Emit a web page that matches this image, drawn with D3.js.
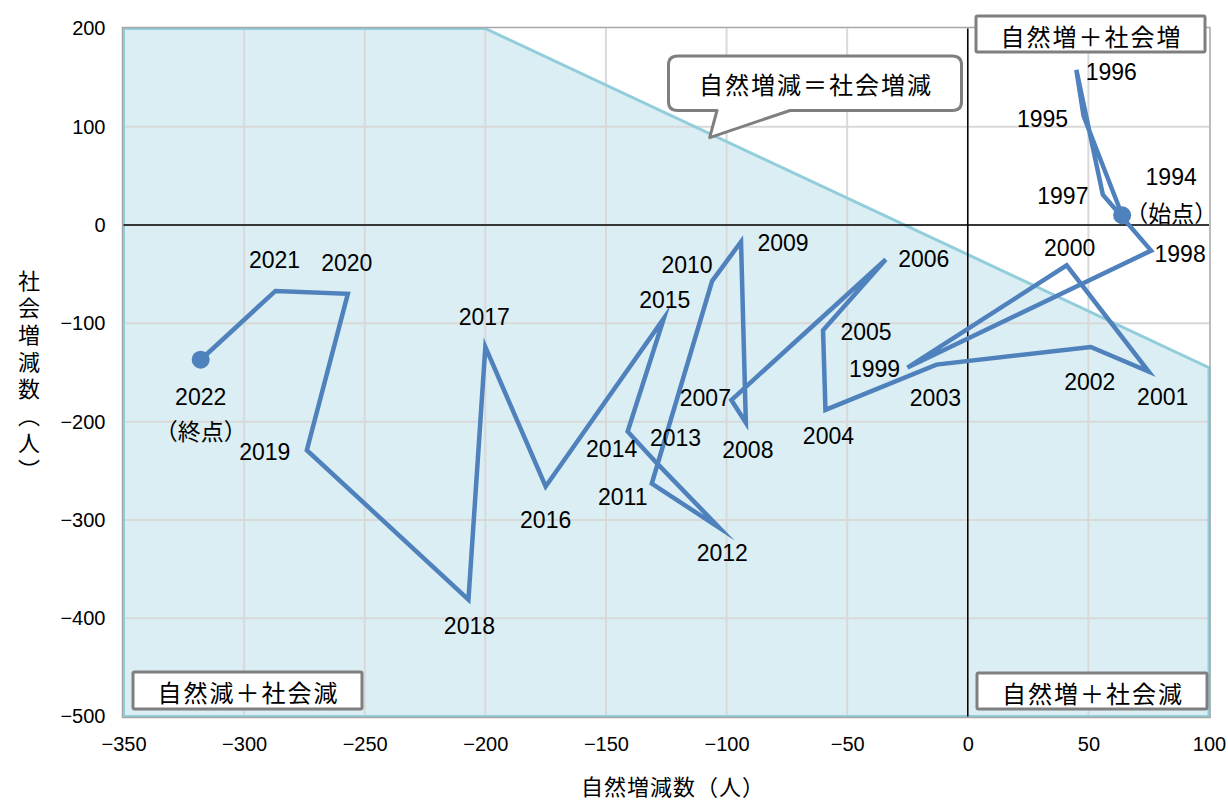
<!DOCTYPE html>
<html><head><meta charset="utf-8">
<script src="https://cdn.jsdelivr.net/npm/d3@7"></script>
<style>
html,body{margin:0;padding:0;background:#fff;}
svg{display:block;}
</style>
</head><body>
<svg id="chart" width="1228" height="801"></svg>
<script>
// ---- data ----
const years = [1994,1995,1996,1997,1998,1999,2000,2001,2002,2003,2004,2005,2006,2007,2008,2009,2010,2011,2012,2013,2014,2015,2016,2017,2018,2019,2020,2021,2022];
const naturalChange = [64,48,45,56,76,-25,41,75,51,-13,-59,-60,-34,-98,-92,-94,-106,-131,-103,-129,-141,-126,-175,-200,-207,-274,-257,-287,-318];
const socialChange = [10,111,158,31,-26,-145,-41,-149,-124,-142,-188,-107,-35,-178,-201,-17,-57,-263,-308,-242,-210,-95,-266,-124,-381,-229,-70,-67,-137];
const xTicks = [-350,-300,-250,-200,-150,-100,-50,0,50,100];
const yTicks = [-500,-400,-300,-200,-100,0,100,200];
const equalLine = [[-200,200],[100,-145]]; // 自然増減＝社会増減 boundary
const startNote = "（始点）";
const endNote = "（終点）";
const quadrantLabels = ["自然増＋社会増","自然減＋社会減","自然増＋社会減"];
const calloutText = "自然増減＝社会増減";
const xTitle = "自然増減数（人）";
const yTitle = "社会増減数（人）";

// label offsets (layout only)
const labelOffsets = [[49,-38],[-41,3],[35,2],[-40,1],[29,3],[-33,1],[3,-17],[14,25],[-1,35],[-1,33],[3,26],[43,2],[38,0],[-26,-2],[2,27],[42,1],[-25,-16],[-29,13],[3,25],[19,-25],[-16,18],[1,-18],[0,33],[-1,-30],[1,26],[-42,2],[-1,-31],[-1,-31],[0,37]];

// ---- layout ----
const svg = d3.select("#chart");
const L = 123.5, R = 1209, T = 28.5, B = 716.5;
const x = d3.scaleLinear().domain([-350,100]).range([L,R]);
const y = d3.scaleLinear().domain([-500,200]).range([B,T]);
const numFont = "'Liberation Sans', Arial, sans-serif";
const jpFont = "'Noto Sans CJK JP', 'Noto Sans', sans-serif";

// shaded region (below the equal line)
const region = [[-350,200],[equalLine[0][0],equalLine[0][1]],[equalLine[1][0],equalLine[1][1]],[100,-500],[-350,-500]];
svg.append("path")
  .attr("d", d3.line().x(d=>x(d[0])).y(d=>y(d[1]))(region) + "Z")
  .attr("fill","#daeef3").attr("stroke","none");

// grid
svg.append("g").selectAll("line").data(xTicks.slice(1,-1)).join("line")
  .attr("x1",d=>x(d)).attr("x2",d=>x(d)).attr("y1",T).attr("y2",B)
  .attr("stroke","#d9d9d9").attr("stroke-width",2);
svg.append("g").selectAll("line").data(yTicks.slice(1,-1)).join("line")
  .attr("x1",L).attr("x2",R).attr("y1",d=>y(d)).attr("y2",d=>y(d))
  .attr("stroke","#d9d9d9").attr("stroke-width",2);

// region outline
svg.append("path")
  .attr("d", d3.line().x(d=>x(d[0])).y(d=>y(d[1]))(region) + "Z")
  .attr("fill","none").attr("stroke","#92cddc").attr("stroke-width",3);

// plot border
svg.append("rect").attr("x",L-1).attr("y",T-1).attr("width",R-L+2).attr("height",B-T+2)
  .attr("fill","none").attr("stroke","#a6a6a6").attr("stroke-width",1.5);

// zero axes
svg.append("line").attr("x1",x(0)).attr("x2",x(0)).attr("y1",T).attr("y2",B)
  .attr("stroke","#000").attr("stroke-width",1.5);
svg.append("line").attr("x1",L).attr("x2",R).attr("y1",y(0)).attr("y2",y(0))
  .attr("stroke","#000").attr("stroke-width",1.5);

// axes labels via d3 axes
const fmt = d3.format("d");
const xAxis = svg.append("g").attr("transform",`translate(0,${B+20})`)
  .call(d3.axisBottom(x).tickValues(xTicks).tickSize(0).tickFormat(d=>fmt(d)));
xAxis.select(".domain").remove();
xAxis.selectAll("text").attr("font-family",numFont).attr("font-size",20).attr("fill","#000").attr("dy","0.71em").attr("y",0);

const yAxis = svg.append("g").attr("transform",`translate(${L-18},0)`)
  .call(d3.axisLeft(y).tickValues(yTicks).tickSize(0).tickFormat(d=>fmt(d)));
yAxis.select(".domain").remove();
yAxis.selectAll("text").attr("font-family",numFont).attr("font-size",20).attr("fill","#000").attr("x",0);

// axis titles
svg.append("text").attr("x",673).attr("y",795).attr("text-anchor","middle")
  .attr("font-family",jpFont).attr("font-size",22).attr("letter-spacing",1).attr("fill","#000").text(xTitle);
svg.append("text").attr("x",25).attr("y",270)
  .attr("writing-mode","vertical-rl").attr("font-family",jpFont).attr("font-size",22)
  .attr("letter-spacing",5).attr("fill","#000").attr("dominant-baseline","middle").text(yTitle);

// data line
const pts = years.map((yr,i)=>({yr, nx:naturalChange[i], sy:socialChange[i], off:labelOffsets[i]}));
svg.append("path")
  .attr("d", d3.line().x(d=>x(d.nx)).y(d=>y(d.sy))(pts))
  .attr("fill","none").attr("stroke","#4f81bd").attr("stroke-width",4.5)
  .attr("stroke-linejoin","miter").attr("stroke-miterlimit",10);

// start/end markers
svg.append("g").selectAll("circle").data([pts[0], pts[pts.length-1]]).join("circle")
  .attr("cx",d=>x(d.nx)).attr("cy",d=>y(d.sy)).attr("r",9).attr("fill","#4f81bd");

// year labels
svg.append("g").selectAll("text").data(pts).join("text")
  .attr("x",d=>x(d.nx)+d.off[0]).attr("y",d=>y(d.sy)+d.off[1])
  .attr("text-anchor","middle").attr("dominant-baseline","central")
  .attr("font-family",numFont).attr("font-size",23).attr("fill","#000")
  .text(d=>d.yr);
// start/end notes
const first = pts[0], last = pts[pts.length-1];
svg.append("text").attr("x",x(first.nx)+first.off[0]).attr("y",y(first.sy)+first.off[1]+35)
  .attr("text-anchor","middle").attr("dominant-baseline","central")
  .attr("font-family",jpFont).attr("font-size",23).attr("fill","#000").text(startNote);
svg.append("text").attr("x",x(last.nx)+last.off[0]).attr("y",y(last.sy)+last.off[1]+33)
  .attr("text-anchor","middle").attr("dominant-baseline","central")
  .attr("font-family",jpFont).attr("font-size",23).attr("fill","#000").text(endNote);

// quadrant boxes
const boxes = [
  {t:quadrantLabels[0], x0:976, y0:16, x1:1205, y1:52},
  {t:quadrantLabels[1], x0:133, y0:672, x1:362, y1:709},
  {t:quadrantLabels[2], x0:977, y0:673, x1:1207, y1:709}
];
const bg = svg.append("g");
boxes.forEach(b=>{
  bg.append("rect").attr("x",b.x0).attr("y",b.y0).attr("width",b.x1-b.x0).attr("height",b.y1-b.y0)
    .attr("fill","#fff").attr("stroke","#7f7f7f").attr("stroke-width",3).attr("rx",1.5);
  bg.append("text").attr("x",(b.x0+b.x1)/2+1).attr("y",(b.y0+b.y1)/2+1)
    .attr("text-anchor","middle").attr("dominant-baseline","central")
    .attr("font-family",jpFont).attr("font-size",24).attr("letter-spacing",2).attr("fill","#000").text(b.t);
});

// callout
const tipX = x(-107), tipY = y(89);
const cx0 = 668.5, cy0 = 56, cx1 = 961.5, cy1 = 110.5, r = 9;
const callPath = `M${cx0+r},${cy0} H${cx1-r} Q${cx1},${cy0} ${cx1},${cy0+r} V${cy1-r} Q${cx1},${cy1} ${cx1-r},${cy1}
 H790 L${tipX},${tipY} L717,${cy1} H${cx0+r} Q${cx0},${cy1} ${cx0},${cy1-r} V${cy0+r} Q${cx0},${cy0} ${cx0+r},${cy0} Z`;
svg.append("path").attr("d",callPath).attr("fill","#fff").attr("stroke","#7f7f7f").attr("stroke-width",3)
  .attr("stroke-linejoin","round");
svg.append("text").attr("x",(cx0+cx1)/2+1).attr("y",(cy0+cy1)/2)
  .attr("text-anchor","middle").attr("dominant-baseline","central")
  .attr("font-family",jpFont).attr("font-size",24).attr("letter-spacing",2).attr("fill","#000").text(calloutText);
</script>
</body></html>
